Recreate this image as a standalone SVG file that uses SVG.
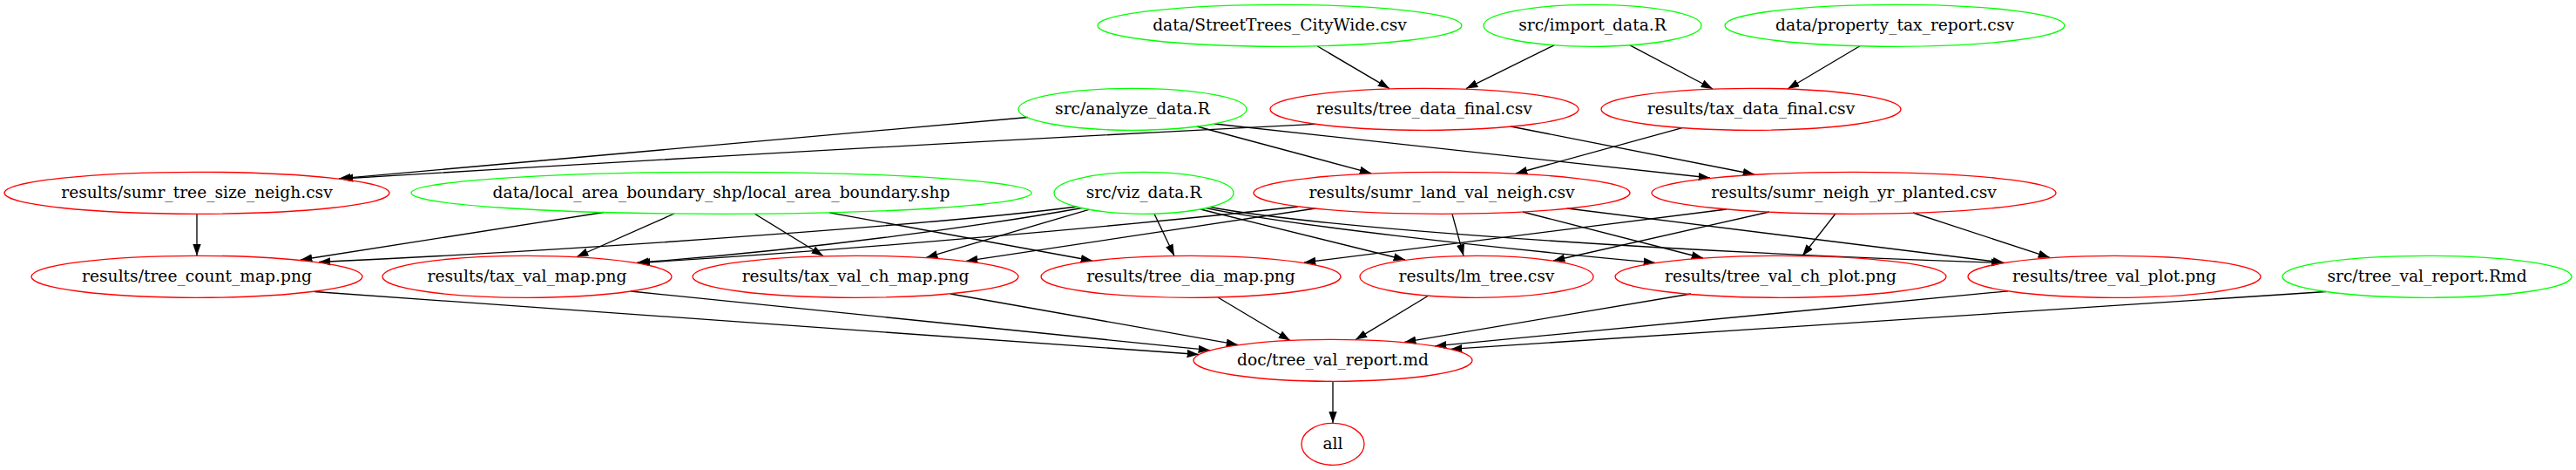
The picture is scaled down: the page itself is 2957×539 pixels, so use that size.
<svg xmlns="http://www.w3.org/2000/svg" width="2957" height="539" viewBox="0 0 2957 539">
<style>
.src ellipse{fill:none;stroke:#00ff00;stroke-width:1.33}
.out ellipse{fill:none;stroke:#ff0000;stroke-width:1.33}
text{font-family:"DejaVu Serif","Liberation Serif",serif;font-size:18.67px;text-anchor:middle;fill:#000}
#edges path{fill:none;stroke:#000;stroke-width:1.33;marker-end:url(#ah)}
</style>
<defs>
<marker id="ah" markerUnits="userSpaceOnUse" viewBox="0 0 14 10" markerWidth="14" markerHeight="10" refX="13.33" refY="4.67" orient="auto">
<path d="M0,0 L13.33,4.67 L0,9.33 z" fill="#000"/>
</marker>
</defs>
<rect width="2957" height="539" fill="#fff"/>
<g id="edges">
<path d="M1512,52.8 L1595,101.6"/>
<path d="M1784,51.8 L1683,101.6"/>
<path d="M1871,51.8 L1966,102"/>
<path d="M2135,52.8 L2052,102"/>
<path d="M1180,134.5 L389,204.8"/>
<path d="M1510,142.3 Q1000,168 392,205"/>
<path d="M1374,145 L1574,198.7"/>
<path d="M1394,142 L1963,204"/>
<path d="M1734,145 L2014,200"/>
<path d="M1931,146.6 L1740,199"/>
<path d="M226,245.3 L226,293.3"/>
<path d="M693,243.5 L345,298"/>
<path d="M1236,237 C1100,255 700,285 366,300.5"/>
<path d="M774,245 L662,294.5"/>
<path d="M1242,238.5 C1150,255 950,285 731,301.2"/>
<path d="M1490,237 C1300,258 1000,285 733,301.5"/>
<path d="M866,245 L945,293.5"/>
<path d="M1250,240.3 L1063,295.4"/>
<path d="M1510,239 L1109,299.4"/>
<path d="M952,243.8 L1254,299"/>
<path d="M1325,245.2 L1348,293.5"/>
<path d="M1982,240 L1497,301"/>
<path d="M1378,240 L1613,298"/>
<path d="M1667,245.3 L1680,293.5"/>
<path d="M2031,243 L1783,299"/>
<path d="M1384,238.7 C1480,258 1700,283 1900,301.3"/>
<path d="M1748,243 L1955,296"/>
<path d="M2107,245 L2069,293.5"/>
<path d="M1389,237.5 C1520,262 1900,288 2299,301.5"/>
<path d="M1799,239 L2301,301.4"/>
<path d="M2196,244 L2353,295.4"/>
<path d="M361,334.5 L1376,406.5"/>
<path d="M724,334 L1389,401.7"/>
<path d="M1091,337 L1421,395.4"/>
<path d="M1398,341 L1481,390.5"/>
<path d="M1639,339.5 L1556,389.6"/>
<path d="M1941,337 L1612,392.4"/>
<path d="M2305,333.8 L1647,396.9"/>
<path d="M2670,334.5 L1665,400.4"/>
<path d="M1530,437.3 L1530,485.3"/>
</g>
<g id="n_streettrees" class="src"><ellipse cx="1469" cy="29.3" rx="209" ry="24"/><text x="1469" y="35">data/StreetTrees_CityWide.csv</text></g>
<g id="n_import" class="src"><ellipse cx="1828" cy="29.3" rx="125" ry="24"/><text x="1828" y="35">src/import_data.R</text></g>
<g id="n_property" class="src"><ellipse cx="2175" cy="29.3" rx="195" ry="24"/><text x="2175" y="35">data/property_tax_report.csv</text></g>
<g id="n_analyze" class="src"><ellipse cx="1300" cy="125.3" rx="131" ry="24"/><text x="1300" y="131">src/analyze_data.R</text></g>
<g id="n_tree_data" class="out"><ellipse cx="1635" cy="125.3" rx="177" ry="24"/><text x="1635" y="131">results/tree_data_final.csv</text></g>
<g id="n_tax_data" class="out"><ellipse cx="2010" cy="125.3" rx="172" ry="24"/><text x="2010" y="131">results/tax_data_final.csv</text></g>
<g id="n_sumr_tree_size" class="out"><ellipse cx="226" cy="221.3" rx="221" ry="24"/><text x="226" y="227">results/sumr_tree_size_neigh.csv</text></g>
<g id="n_local_area" class="src"><ellipse cx="828" cy="221.3" rx="356" ry="24"/><text x="828" y="227">data/local_area_boundary_shp/local_area_boundary.shp</text></g>
<g id="n_viz" class="src"><ellipse cx="1313" cy="221.3" rx="103" ry="24"/><text x="1313" y="227">src/viz_data.R</text></g>
<g id="n_sumr_land" class="out"><ellipse cx="1655" cy="221.3" rx="216" ry="24"/><text x="1655" y="227">results/sumr_land_val_neigh.csv</text></g>
<g id="n_sumr_neigh" class="out"><ellipse cx="2128" cy="221.3" rx="232" ry="24"/><text x="2128" y="227">results/sumr_neigh_yr_planted.csv</text></g>
<g id="n_tree_count" class="out"><ellipse cx="226" cy="317.3" rx="190" ry="24"/><text x="226" y="323">results/tree_count_map.png</text></g>
<g id="n_tax_val_map" class="out"><ellipse cx="605" cy="317.3" rx="166" ry="24"/><text x="605" y="323">results/tax_val_map.png</text></g>
<g id="n_tax_val_ch" class="out"><ellipse cx="982" cy="317.3" rx="187" ry="24"/><text x="982" y="323">results/tax_val_ch_map.png</text></g>
<g id="n_tree_dia" class="out"><ellipse cx="1367" cy="317.3" rx="172" ry="24"/><text x="1367" y="323">results/tree_dia_map.png</text></g>
<g id="n_lm_tree" class="out"><ellipse cx="1695" cy="317.3" rx="134" ry="24"/><text x="1695" y="323">results/lm_tree.csv</text></g>
<g id="n_tree_val_ch" class="out"><ellipse cx="2044" cy="317.3" rx="190" ry="24"/><text x="2044" y="323">results/tree_val_ch_plot.png</text></g>
<g id="n_tree_val_plot" class="out"><ellipse cx="2427" cy="317.3" rx="168" ry="24"/><text x="2427" y="323">results/tree_val_plot.png</text></g>
<g id="n_rmd" class="src"><ellipse cx="2786" cy="317.3" rx="166" ry="24"/><text x="2786" y="323">src/tree_val_report.Rmd</text></g>
<g id="n_doc" class="out"><ellipse cx="1530" cy="413.3" rx="160" ry="24"/><text x="1530" y="419">doc/tree_val_report.md</text></g>
<g id="n_all" class="out"><ellipse cx="1530" cy="509.3" rx="36" ry="24"/><text x="1530" y="515">all</text></g>
</svg>
